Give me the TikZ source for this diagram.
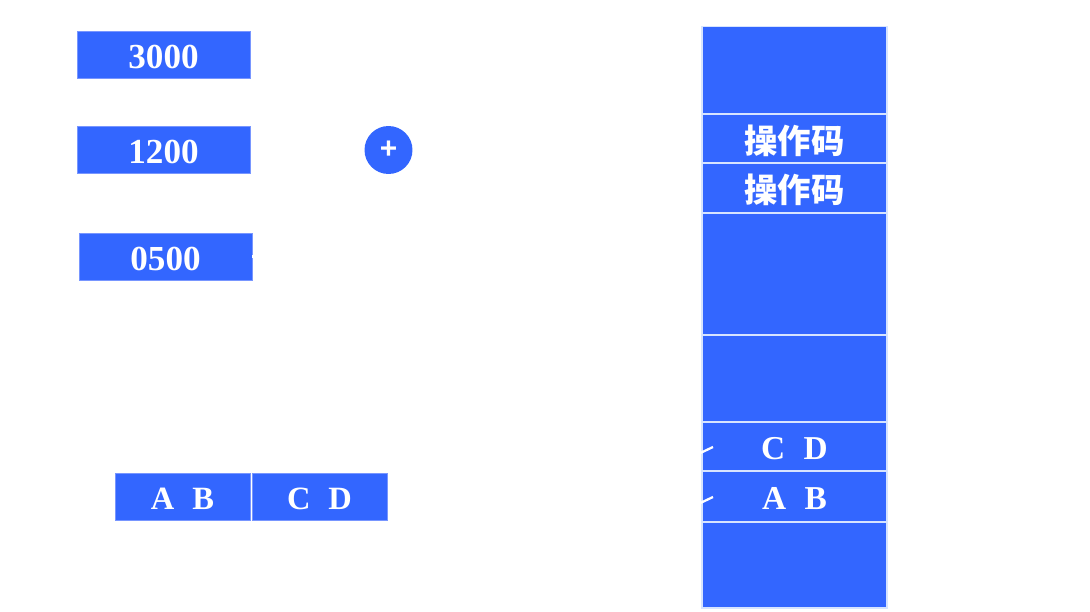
\documentclass[tikz,border=0pt]{standalone}
\usepackage{fontspec}
\setmainfont{Liberation Serif}
\newfontfamily\cjk{Noto Sans CJK SC}
\newfontfamily\plusfont{Liberation Sans}
\definecolor{cellblue}{RGB}{51,102,255}
\definecolor{celledge}{RGB}{120,150,255}
\definecolor{sepline}{RGB}{215,228,255}
\newcommand{\lowered}[1]{\raisebox{-0.045cm}[\height][\depth]{#1}}
\begin{document}
\begin{tikzpicture}[x=0.02cm,y=-0.02cm,
  cell/.style={draw=celledge,line width=0.4pt,fill=cellblue,text=white,inner sep=0pt,font=\fontsize{20}{22}\selectfont\bfseries},
  pair/.style={cell,font=\fontsize{18.5}{20}\selectfont\bfseries},
  mem/.style={draw=sepline,line width=0.9pt,fill=cellblue,text=white,inner sep=0pt,font=\fontsize{19}{21}\selectfont\bfseries},
  op/.style={mem,font=\cjk\fontsize{19}{21}\selectfont\bfseries},
  wline/.style={draw=white,line width=1.3pt}]
\useasboundingbox (0,0) rectangle (1090,612);
% left registers
\node[cell,minimum width=3.46cm,minimum height=0.94cm] (r3000) at (163.5,54.5) {\lowered{3000}};
\node[cell,minimum width=3.46cm,minimum height=0.94cm] (r1200) at (163.5,149.5) {\lowered{1200}};
\node[cell,minimum width=3.46cm,minimum height=0.94cm] (r0500) at (165.5,256.5) {\lowered{0500}};
\node[circle,fill=cellblue,minimum size=0.96cm,inner sep=0pt,text=white,font=\plusfont\fontsize{17}{17}\selectfont\bfseries] (plus) at (388.5,150) {+};
\node[pair,minimum width=2.70cm,minimum height=0.94cm] (ab) at (182.5,496.5) {\lowered{A\hspace{0.55em}B}};
\node[pair,minimum width=2.70cm,minimum height=0.94cm] (cd) at (319.5,496.5) {\lowered{C\hspace{0.55em}D}};
% memory column
\node[mem,minimum width=3.70cm,minimum height=1.74cm] (m1) at (794.5,70) {};
\node[op,minimum width=3.70cm,minimum height=0.98cm] (m2) at (794.5,138.5) {\lowered{操作码}};
\node[op,minimum width=3.70cm,minimum height=1.00cm] (m3) at (794.5,188) {\lowered{操作码}};
\node[mem,minimum width=3.70cm,minimum height=2.44cm] (m4) at (794.5,274) {};
\node[mem,minimum width=3.70cm,minimum height=1.74cm] (m5) at (794.5,378.5) {};
\node[mem,minimum width=3.70cm,minimum height=0.98cm] (m6) at (794.5,446.5) {\lowered{C\hspace{0.55em}D}};
\node[mem,minimum width=3.70cm,minimum height=1.02cm] (m7) at (794.5,496.5) {\lowered{A\hspace{0.55em}B}};
\node[mem,minimum width=3.70cm,minimum height=1.72cm] (m8) at (794.5,565) {};
% white connectors (visible only over blue)
\coordinate (t1) at (713,447);
\coordinate (t2) at (713,497);
\draw[wline] (m6.west) ++(-4,8) -- (t1);
\draw[wline] (m7.west) ++(-4,8) -- (t2);
\draw[wline] (r0500.east) -- ++(3,0);
\end{tikzpicture}
\end{document}
